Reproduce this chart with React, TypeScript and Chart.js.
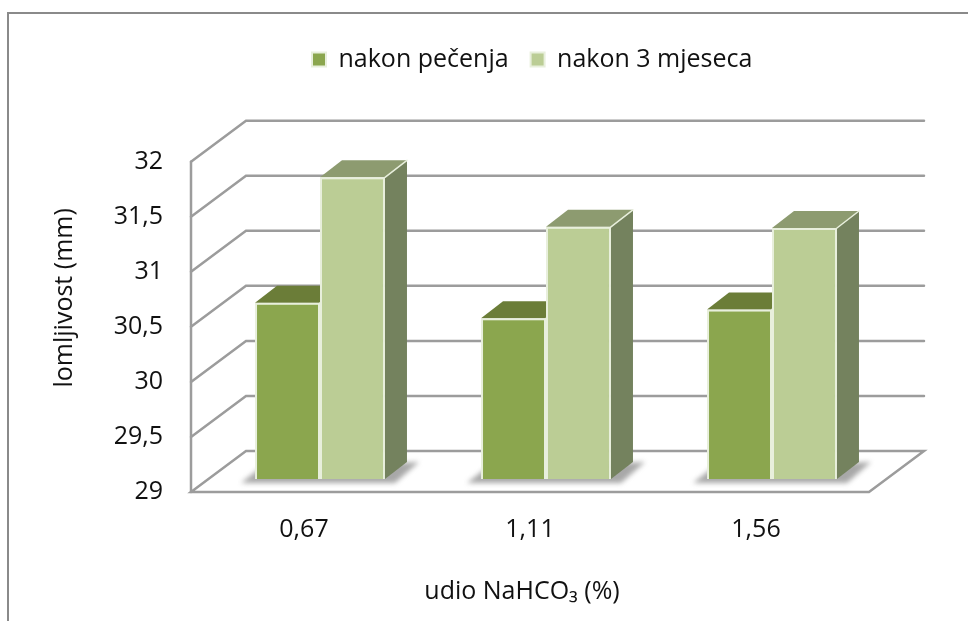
import React, { useEffect, useRef } from "react";
import { Chart, registerables } from "chart.js";

Chart.register(...registerables);

const categories = ["0,67", "1,11", "1,56"];
const afterBaking = [30.6, 30.46, 30.54];
const afterThreeMonths = [31.74, 31.29, 31.28];
const seriesNames = ["nakon pečenja", "nakon 3 mjeseca"];
const yTitle = "lomljivost (mm)";
const xTitle = "udio NaHCO₃ (%)";

const FONT = "'Open Sans', 'Noto Sans', sans-serif";
const FONT_SIZE = 25;
const GRID = "#9c9c9c";
const DARK = "#8ba64e";
const LIGHT = "#bbcd95";
const TOPS = ["#6b7d38", "#8d9b70"];
const SIDES = ["#586a2e", "#74825e"];
const EDGE = "#e8efdc";

const WALL_DX = 55, WALL_DY = -41;
const BAR_DX = 16, BAR_DY = -13;
const DEPTH_DX = 22, DEPTH_DY = -17;
const LEGEND_GAP = 22;

function poly(ctx: CanvasRenderingContext2D, pts: number[][], fill?: string, stroke?: string, lw = 1) {
  ctx.beginPath();
  pts.forEach((p, i) => (i ? ctx.lineTo(p[0], p[1]) : ctx.moveTo(p[0], p[1])));
  ctx.closePath();
  if (fill) { ctx.fillStyle = fill; ctx.fill(); }
  if (stroke) { ctx.strokeStyle = stroke; ctx.lineWidth = lw; ctx.stroke(); }
}

const threeD = {
  id: "threeD",
  afterLayout(chart: any) {
    const lg = chart.legend;
    if (lg) {
      const w = lg.right - lg.left;
      lg.left = 312 - LEGEND_GAP;
      lg.right = lg.left + w;
      const h = lg.bottom - lg.top;
      lg.top = 25;
      lg.bottom = lg.top + h;
    }
    const y = chart.scales.y;
    if (!y.__shifted) {
      y.__shifted = true;
      const orig = y.drawTitle;
      y.drawTitle = function () {
        const c = this.ctx; c.save(); c.translate(50, -29); orig.call(this); c.restore();
      };
      const x = chart.scales.x;
      const origX = x.drawTitle;
      x.drawTitle = function () {
        const c = this.ctx; c.save(); c.translate(-8, -14); origX.call(this); c.restore();
      };
    }
  },
  beforeDatasetsDraw(chart: any) {
    const { ctx, chartArea: a, scales } = chart;
    const ys = scales.y;
    ctx.save();
    ctx.lineCap = "round";
    ctx.lineJoin = "miter";
    const yBase = a.bottom;
    poly(ctx, [[a.left, yBase], [a.right, yBase], [a.right + WALL_DX, yBase + WALL_DY], [a.left + WALL_DX, yBase + WALL_DY]], undefined, GRID, 2.5);
    ys.ticks.forEach((t: any) => {
      const py = ys.getPixelForValue(t.value);
      if (t.value === ys.min) return;
      ctx.beginPath();
      ctx.moveTo(a.left, py);
      ctx.lineTo(a.left + WALL_DX, py + WALL_DY);
      ctx.lineTo(a.right + WALL_DX, py + WALL_DY);
      ctx.strokeStyle = GRID; ctx.lineWidth = 2.5; ctx.stroke();
    });
    ctx.beginPath();
    ctx.moveTo(a.left, ys.getPixelForValue(ys.max));
    ctx.lineTo(a.left, yBase);
    ctx.stroke();

    const m0 = chart.getDatasetMeta(0).data;
    const m1 = chart.getDatasetMeta(1).data;
    // floor shadows
    m0.forEach((d0: any, j: number) => {
      const d1 = m1[j];
      const l = d0.x - d0.width / 2 + BAR_DX;
      const r = d1.x + d1.width / 2 + BAR_DX;
      const b = d0.base + BAR_DY;
      ctx.save();
      ctx.filter = "blur(2.5px)";
      poly(ctx, [[l - 14, b + 4], [l + 4, b - 10], [r + DEPTH_DX + 12, b + DEPTH_DY], [r + 10, b + 4]], "rgba(110,110,110,0.6)");
      ctx.restore();
    });
    // top and side faces
    [m0, m1].forEach((meta: any[], i: number) => {
      meta.forEach((d: any) => {
        const l = d.x - d.width / 2 + BAR_DX;
        const r = d.x + d.width / 2 + BAR_DX;
        const t = d.y + BAR_DY;
        const b = d.base + BAR_DY;
        poly(ctx, [[l, t], [r, t], [r + DEPTH_DX, t + DEPTH_DY], [l + DEPTH_DX, t + DEPTH_DY]], TOPS[i]);
        poly(ctx, [[r, t], [r + DEPTH_DX, t + DEPTH_DY], [r + DEPTH_DX, b + DEPTH_DY], [r, b]], SIDES[i]);
        ctx.beginPath();
        ctx.moveTo(r, t);
        ctx.lineTo(r + DEPTH_DX, t + DEPTH_DY);
        ctx.strokeStyle = EDGE; ctx.lineWidth = 1.5; ctx.stroke();
      });
    });
    ctx.restore();
    ctx.save();
    ctx.translate(BAR_DX, BAR_DY);
  },
  afterDatasetsDraw(chart: any) {
    chart.ctx.restore();
  },
};

export default function App() {
  const ref = useRef<HTMLCanvasElement | null>(null);
  useEffect(() => {
    const chart = new Chart(ref.current as HTMLCanvasElement, {
      type: "bar",
      data: {
        labels: categories,
        datasets: [
          { label: seriesNames[0], data: afterBaking, base: 29, backgroundColor: DARK, borderColor: EDGE, borderWidth: 2, clip: false },
          { label: seriesNames[1], data: afterThreeMonths, base: 29, backgroundColor: LIGHT, borderColor: EDGE, borderWidth: 2, clip: false },
        ],
      },
      options: {
        responsive: false,
        animation: false,
        categoryPercentage: 0.575,
        barPercentage: 1,
        layout: { padding: { left: 0, right: 99, top: 100, bottom: 0 } },
        plugins: {
          tooltip: { enabled: false },
          legend: {
            display: true,
            position: "top",
            align: "start",
            labels: {
              boxWidth: 14,
              boxHeight: 14,
              padding: LEGEND_GAP,
              color: "#111",
              font: { family: FONT, size: FONT_SIZE },
            },
          },
        },
        scales: {
          x: {
            grid: { display: false, drawTicks: false },
            border: { display: false },
            ticks: { color: "#111", padding: 23, maxRotation: 0, font: { family: FONT, size: FONT_SIZE } },
            title: { display: true, text: xTitle, color: "#111", padding: { top: 20, bottom: 0 }, font: { family: FONT, size: FONT_SIZE } },
            afterFit: (s: any) => { s.height = 129; },
          },
          y: {
            min: 29,
            max: 32,
            grid: { display: false, drawTicks: false },
            border: { display: false },
            ticks: {
              stepSize: 0.5,
              color: "#111",
              padding: 28,
              font: { family: FONT, size: FONT_SIZE },
              callback: (v: any) => String(v).replace(".", ","),
            },
            title: { display: true, text: yTitle, color: "#111", padding: { top: 0, bottom: 0 }, font: { family: FONT, size: FONT_SIZE } },
            afterFit: (s: any) => { s.width = 191; },
          },
        },
      } as any,
      plugins: [threeD],
    });
    const opts: any = chart.options;
    opts.layout.padding.top += 161.7 - chart.chartArea.top;
    chart.update();
    return () => chart.destroy();
  }, []);
  return (
    <div style={{ position: "fixed", left: 0, top: 0, width: 968, height: 621, background: "#fff", overflow: "hidden" }}>
      <div style={{ position: "absolute", left: 7, top: 12, width: 968, height: 621, borderLeft: "2px solid #8a8a8a", borderTop: "2px solid #8a8a8a" }} />
      <canvas ref={ref} width={968} height={621} style={{ position: "absolute", left: 0, top: 0, display: "block" }} />
    </div>
  );
}
